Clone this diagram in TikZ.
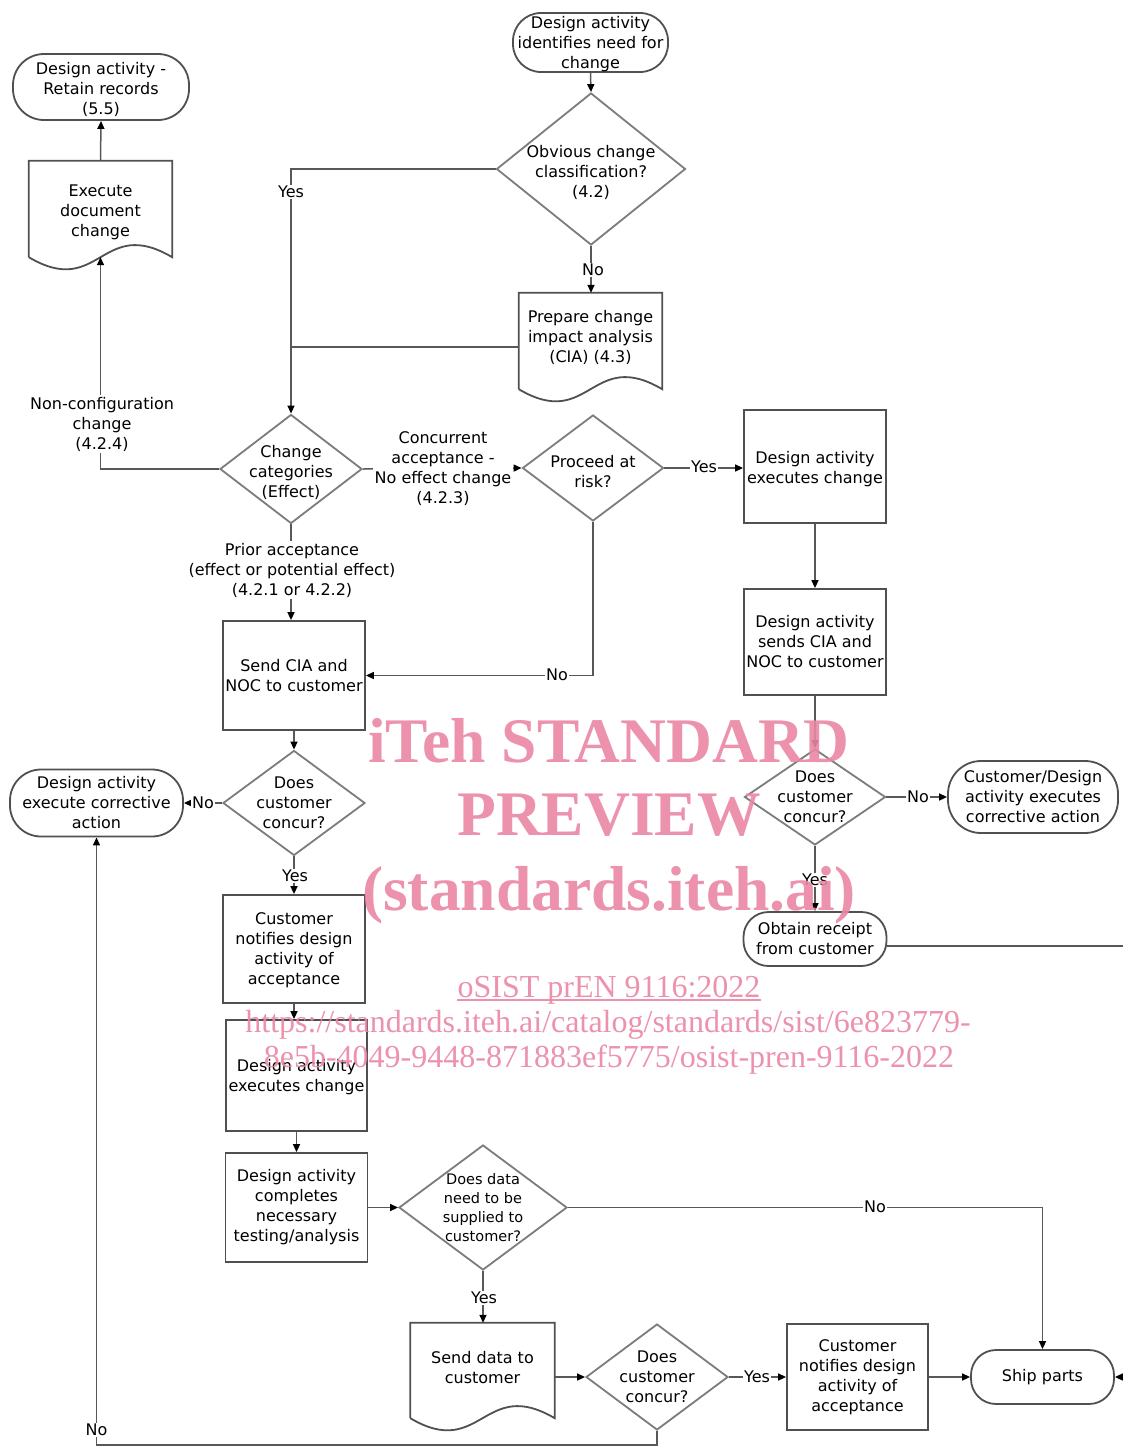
\documentclass[tikz,border=0pt]{standalone}
\usepackage{fontspec}
\setmainfont{DejaVu Sans}
\newfontfamily\wmfont{Liberation Serif}
\usetikzlibrary{shapes.geometric,arrows.meta}
\definecolor{boxc}{HTML}{505050}
\definecolor{diac}{HTML}{7C7C7C}
\definecolor{linec}{HTML}{585858}
\definecolor{wmc}{RGB}{234,135,165}
\newcommand\docoutline[1]{\draw[draw=boxc, line width=1.8pt] (#1.south west) -- (#1.north west) -- (#1.north east) -- (#1.south east) .. controls +(-71,-42) and +(71,42) .. (#1.south west);}
\begin{document}
\begin{tikzpicture}[x=1pt,y=-1pt,
  every node/.style={font=\fontsize{16}{20}\selectfont, align=center, inner sep=0pt},
  proc/.style={draw=boxc, line width=1.8pt, rectangle},
  term/.style={draw=boxc, line width=1.8pt, rectangle, rounded corners=#1},
  term/.default=25pt,
  dia/.style={draw=diac, line width=1.8pt, diamond},
  docn/.style={rectangle},
  conn/.style={draw=linec, line width=1.5pt, -{Triangle[length=8pt,width=7pt,color=black]}},
  plain/.style={draw=linec, line width=1.5pt},
  lbl/.style={fill=white, inner sep=1.5pt},
  wm/.style={text=wmc, text opacity=0.9, anchor=base},
]
\useasboundingbox (0,0) rectangle (1123,1446);
\fill[white] (0,0) rectangle (1123,1446);

% ---- nodes ----
\node[term=28pt, minimum width=155pt, minimum height=59pt, label={[yshift=-1.5pt]center:Design activity\\identifies need for\\change}] (start) at (590.5,42.5) {};
\node[dia, minimum width=189pt, minimum height=152pt, label={[yshift=-3pt]center:Obvious change\\classification?\\(4.2)}] (obv) at (591,169) {};
\node[docn, minimum width=143pt, minimum height=96pt, label={[yshift=4pt]center:Prepare change\\impact analysis\\(CIA) (4.3)}] (prep) at (590.5,341) {};
\docoutline{prep}
\node[docn, minimum width=143pt, minimum height=96pt, label={[yshift=-3pt]center:Execute\\document\\change}] (exdoc) at (100.5,209) {};
\docoutline{exdoc}
\node[term=31pt, minimum width=176pt, minimum height=66pt, label={[yshift=-2.5pt]center:Design activity -\\Retain records\\(5.5)}] (retain) at (101,87) {};
\node[dia, minimum width=142pt, minimum height=109pt, label={[yshift=-3pt]center:Change\\categories\\(Effect)}] (cat) at (291,469) {};
\node[dia, minimum width=141pt, minimum height=106pt, label={[yshift=-3.5pt]center:Proceed at\\risk?}] (risk) at (593,468) {};
\node[proc, minimum width=142pt, minimum height=113pt, label={[yshift=-2.5pt]center:Design activity\\executes change}] (exec1) at (815,466.5) {};
\node[proc, minimum width=142pt, minimum height=106pt] (sends) at (815,642) {Design activity\\sends CIA and\\NOC to customer};
\node[dia, minimum width=141pt, minimum height=96pt, label={center:Does\\customer\\concur?}] (dcR) at (815,797) {};
\node[term=33pt, minimum width=170pt, minimum height=72pt] (corrR) at (1033,797) {Customer/Design\\activity executes\\corrective action};
\node[term=25pt, minimum width=143pt, minimum height=54pt] (obtain) at (815,939) {Obtain receipt\\from customer};
\node[proc, minimum width=142pt, minimum height=109pt] (sendcia) at (294,675.5) {Send CIA and\\NOC to customer};
\node[dia, minimum width=142pt, minimum height=105pt, label={center:Does\\customer\\concur?}] (dcL) at (294,803) {};
\node[term=31pt, minimum width=173pt, minimum height=67pt] (corrL) at (96.5,803) {Design activity\\execute corrective\\action};
\node[proc, minimum width=142pt, minimum height=108pt, label={[yshift=-1.5pt]center:Customer\\notifies design\\activity of\\acceptance}] (notify1) at (294,949) {};
\node[proc, minimum width=141pt, minimum height=111pt, label={[yshift=-1.5pt]center:Design activity\\executes change}] (exec2) at (296.5,1075.5) {};
\node[proc, minimum width=142pt, minimum height=109pt] (complete) at (296.5,1207.5) {Design activity\\completes\\necessary\\testing/analysis};
\node[dia, minimum width=168pt, minimum height=125pt, label={[font=\fontsize{14.5}{19}\selectfont]center:Does data\\need to be\\supplied to\\customer?}] (data) at (483,1207.5) {};
\node[docn, minimum width=144pt, minimum height=95pt, label={[yshift=3pt]center:Send data to\\customer}] (senddata) at (482.5,1370.5) {};
\docoutline{senddata}
\node[dia, minimum width=142pt, minimum height=106pt, label={center:Does\\customer\\concur?}] (dcB) at (657,1377) {};
\node[proc, minimum width=141pt, minimum height=106pt] (notify2) at (857.5,1377) {Customer\\notifies design\\activity of\\acceptance};
\node[term=25pt, minimum width=143pt, minimum height=54pt] (ship) at (1042.5,1377) {Ship parts};

\coordinate (offR) at (1140,946);
\coordinate (botL) at (96.5,1445);

% ---- connectors ----
\draw[conn] (start.south) -- (obv.north);
\draw[conn] (obv.west) -| (cat.north);
\draw[conn] (obv.south) -- (obv.south |- prep.north);
\draw[plain] ([yshift=-6pt]prep.west) -- ([yshift=-6pt]prep.west -| cat.north);
\draw[conn] (cat.west) -| (exdoc.south);
\draw[conn] (exdoc.north) -- (retain.south);
\draw[conn] (cat.east) -- (risk.west);
\draw[conn] (risk.east) -- (risk.east -| exec1.west);
\draw[conn] (exec1.south) -- (sends.north);
\draw[conn] (sends.south) -- (dcR.north);
\draw[conn] (dcR.east) -- (corrR.west);
\draw[conn] (dcR.south) -- (obtain.north);
\draw[conn] ([yshift=-7pt]obtain.east) -- (offR) |- (ship.east);
\draw[conn] (cat.south) -- (cat.south |- sendcia.north);
\draw[conn] (risk.south) |- (sendcia.east);
\draw[conn] (sendcia.south) -- (dcL.north);
\draw[conn] (dcL.west) -- (corrL.east);
\draw[conn] (dcL.south) -- (notify1.north);
\draw[conn] (notify1.south) -- (notify1.south |- exec2.north);
\draw[conn] (exec2.south) -- (complete.north);
\draw[conn] (complete.east) -- (data.west);
\draw[conn] (data.east) -| (ship.north);
\draw[conn] (data.south) -- (data.south |- senddata.north);
\draw[conn] (senddata.east |- dcB.west) -- (dcB.west);
\draw[conn] (dcB.east) -- (notify2.west);
\draw[conn] (notify2.east) -- (ship.west);
\draw[conn] (dcB.south) -- (dcB.south |- botL) -- (botL) -- (corrL.south);

% ---- connector labels ----
\node[lbl] (yes1) at (291,192) {Yes};
\node[lbl] (no1) at (593,270) {No};
\node[lbl] (noncfg) at (102,424) {Non-configuration\\change\\(4.2.4)};
\node[lbl] (conc) at (443,469) {Concurrent\\acceptance -\\No effect change\\(4.2.3)};
\node[lbl] (prior) at (292,570) {Prior acceptance\\(effect or potential effect)\\(4.2.1 or 4.2.2)};
\node[lbl] (yes2) at (704,467) {Yes};
\node[lbl] (no2) at (557,675) {No};
\node[lbl] (no3) at (918,797) {No};
\node[lbl] (yes3) at (815,880) {Yes};
\node[lbl] (no4) at (203,803) {No};
\node[lbl] (yes4) at (295,876) {Yes};
\node[lbl] (no5) at (875,1207) {No};
\node[lbl] (yes5) at (484,1298) {Yes};
\node[lbl] (yes6) at (757,1377) {Yes};
\node[lbl] (no6) at (96.5,1430) {No};

% ---- watermark ----
\node[wm, font=\wmfont\bfseries\fontsize{63.5}{74}\selectfont] (wm1) at (609,762) {iTeh STANDARD};
\node[wm, font=\wmfont\bfseries\fontsize{63.5}{74}\selectfont] (wm2) at (609,835) {PREVIEW};
\node[wm, font=\wmfont\bfseries\fontsize{63.5}{74}\selectfont] (wm3) at (609,910) {(standards.iteh.ai)};
\node[wm, font=\wmfont\fontsize{32}{35}\selectfont] (wm4) at (609,997) {oSIST prEN 9116:2022};
\draw[wmc, opacity=0.9, line width=1.6pt] ([yshift=-3pt]wm4.base west) -- ([yshift=-3pt]wm4.base east);
\node[wm, font=\wmfont\fontsize{32}{35}\selectfont] (wm5) at (608,1032) {https://standards.iteh.ai/catalog/standards/sist/6e823779-};
\node[wm, font=\wmfont\fontsize{32}{35}\selectfont] (wm6) at (609,1067) {8e5b-4049-9448-871883ef5775/osist-pren-9116-2022};
\end{tikzpicture}
\end{document}
